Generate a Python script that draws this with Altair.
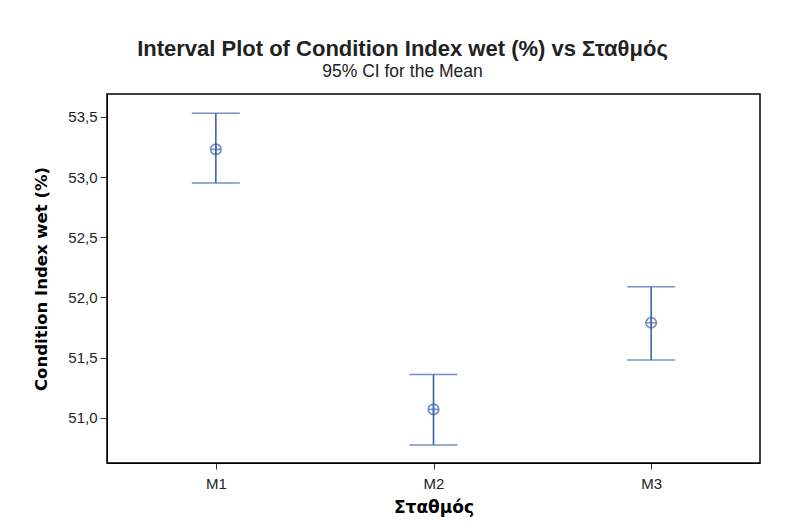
import altair as alt
import pandas as pd

stations = ["M1", "M2", "M3"]
means = [53.23, 51.07, 51.79]
lowers = [52.95, 50.775, 51.48]
uppers = [53.53, 51.36, 52.09]

df = pd.DataFrame({"station": stations, "mean": means, "lower": lowers, "upper": uppers})

blue = "#3d62a8"
ydom = [50.625, 53.69]

x = alt.X("station:N", scale=alt.Scale(type="point", padding=0.5),
          axis=alt.Axis(title="Σταθμός", labelAngle=0, labelFontSize=15, labelColor="#222",
                        titleFontSize=17, titleFontWeight="bold", titlePadding=8,
                        titleFont="DejaVu Sans",
                        tickSize=6, labelPadding=7, domainColor="black", tickColor="#333"))
yscale = alt.Scale(domain=ydom, zero=False, nice=False)
yaxis = alt.Axis(title="Condition Index wet (%)", values=[51.0, 51.5, 52.0, 52.5, 53.0, 53.5],
                 labelExpr="replace(format(datum.value, '.1f'), '.', ',')",
                 labelFontSize=15, labelColor="#222", titleFontSize=16.5, titleFontWeight="bold",
                 titleFont="DejaVu Sans",
                 titlePadding=18, tickSize=7, labelPadding=3, grid=False,
                 domainColor="black", tickColor="#333")

base = alt.Chart(df)
rule = base.mark_rule(color=blue, strokeWidth=1.6).encode(
    x=x, y=alt.Y("lower:Q", scale=yscale, axis=yaxis), y2="upper:Q")
cap_lo = base.mark_tick(color=blue, size=48, thickness=1.5, orient="horizontal").encode(
    x=x, y=alt.Y("lower:Q", scale=yscale))
cap_hi = base.mark_tick(color=blue, size=48, thickness=1.5, orient="horizontal").encode(
    x=x, y=alt.Y("upper:Q", scale=yscale))
pt = base.mark_point(shape="M-1,0A1,1,0,1,1,1,0A1,1,0,1,1,-1,0M-1,0L1,0M0,-1L0,1",
                     color=blue, filled=False, size=110, strokeWidth=1.7).encode(
    x=x, y=alt.Y("mean:Q", scale=yscale))

chart = alt.layer(rule, cap_lo, cap_hi, pt).properties(
    width=653, height=369,
    view=alt.ViewBackground(stroke="black", strokeWidth=1.5, strokeOpacity=1),
    title=alt.TitleParams(text="Interval Plot of Condition Index wet (%) vs Σταθμός",
                          subtitle="95% CI for the Mean", anchor="middle", dx=-31,
                          fontSize=22, fontWeight="bold", subtitleFontSize=17.5,
                          font="Liberation Sans", subtitleFont="Liberation Sans",
                          color="#222", subtitleColor="#222", offset=13, subtitlePadding=2),
    autosize=alt.AutoSizeParams(type="none"),
    padding={"left": 99, "top": 86, "right": 19, "bottom": 61},
).configure_axis(
    labelFont="Liberation Sans", titleFont="Liberation Sans").configure(background="white")

chart.save("out.html", embed_options={"renderer": "svg", "actions": False})
